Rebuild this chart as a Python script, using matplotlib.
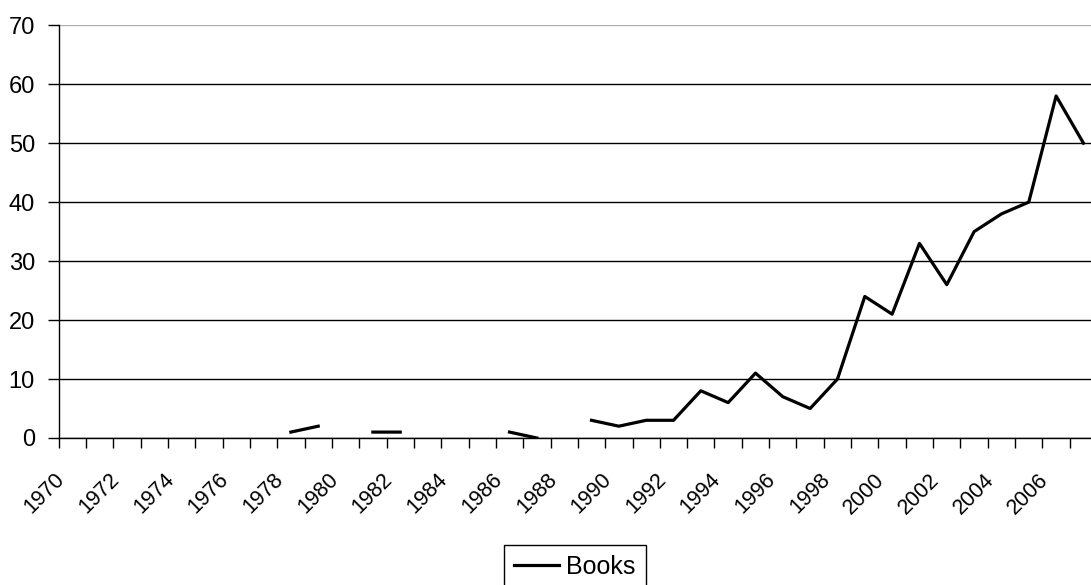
import numpy as np
import matplotlib
matplotlib.use("Agg")
from matplotlib import pyplot as plt
from matplotlib.transforms import ScaledTranslation

plt.rcParams['font.family'] = ['Liberation Sans', 'DejaVu Sans']

# publications per year (gaps = no data)
years = list(range(1970, 2008))
books = [np.nan] * 8 + [1, 2, np.nan, 1, 1, np.nan, np.nan, np.nan, 1, 0, np.nan,
                        3, 2, 3, 3, 8, 6, 11, 7, 5, 10,
                        24, 21, 33, 26, 35, 38, 40, 58, 50]
y_ticks = list(range(0, 80, 10))
label_years = [y for y in years if y % 2 == 0]

fig = plt.figure(figsize=(10.91, 5.85), dpi=100)
ax = fig.add_axes([0.0537, 0.2513, 0.9519, 0.7056])

x = np.arange(len(years)) + 0.5
ax.plot(x, books, color='black', lw=2.3, label='Books')

# y axis and horizontal grid
ax.set_yticks(y_ticks)
ax.tick_params(axis='y', direction='out', length=8, width=1, pad=9, labelsize=17, colors='black')
ax.yaxis.grid(True, color='black', lw=1)
ax.get_ygridlines()[-1].set_color('#b0b0b0')
ax.set_axisbelow(True)

# x axis: tick marks on category boundaries, slanted labels every two years
ax.set_xticks(np.arange(0, len(years) + 1), minor=True)
ax.set_xticks([years.index(y) + 0.5 for y in label_years])
ax.set_xticklabels([str(y) for y in label_years])
ax.tick_params(axis='x', which='minor', direction='out', length=7, width=1)
ax.tick_params(axis='x', which='major', length=0, pad=22.5, labelsize=15.5)

# label end sits a bit left of the category centre
shift = ScaledTranslation(-0.18, 0, fig.dpi_scale_trans)
for lab in ax.get_xticklabels():
    lab.set_rotation(45)
    lab.set_ha('right')
    lab.set_va('top')
    lab.set_rotation_mode('anchor')
    lab.set_transform(lab.get_transform() + shift)

ax.set_xlim(0, len(years))
ax.set_ylim(0, 70)

for side in ['top', 'right']:
    ax.spines[side].set_visible(False)
ax.spines['left'].set_linewidth(1)
ax.spines['bottom'].set_linewidth(1)

leg = fig.legend(loc='upper left', bbox_to_anchor=(504 / 1091, 1 - 545 / 585),
                 borderaxespad=0, fontsize=18, handlelength=1.8, handletextpad=0.3,
                 borderpad=0.4, fancybox=False, framealpha=1, edgecolor='black')
leg.get_frame().set_linewidth(1)

fig.savefig('out.png', dpi=100)
